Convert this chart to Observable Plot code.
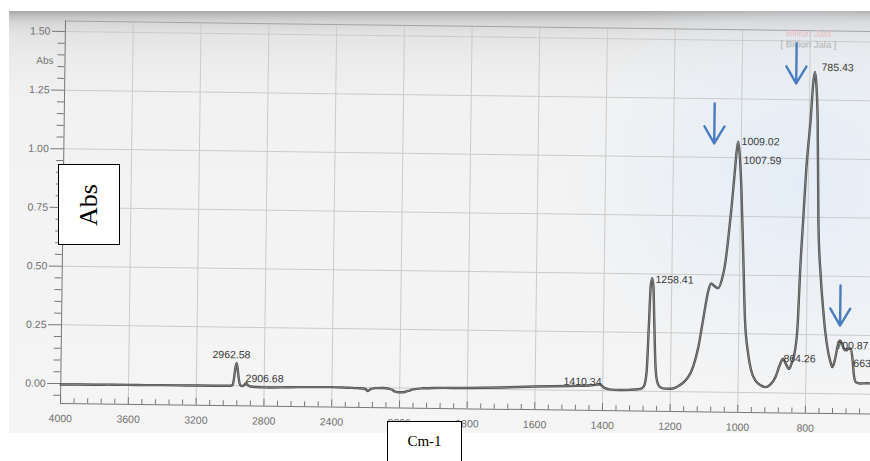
<!DOCTYPE html>
<html><head><meta charset="utf-8">
<script src="https://cdn.jsdelivr.net/npm/d3@7"></script>
<script src="https://cdn.jsdelivr.net/npm/@observablehq/plot@0.6"></script>
<style>
html,body{margin:0;padding:0;background:#fff;}
#wrap{position:relative;width:870px;height:461px;overflow:hidden;background:#fff;}
#paper{position:absolute;left:9px;top:11px;width:861px;height:422px;
 background:
  radial-gradient(ellipse 240px 220px at 790px 170px, rgba(226,236,248,0.85), rgba(226,236,248,0) 100%),
  linear-gradient(to bottom,#a9a9a9 0px,#c2c2c2 5px,#d6d6d6 11px,#e4e4e4 24px,#ececec 50px,#f2f2f2 90px,#f5f5f5 100%);}
#chart{position:absolute;left:0;top:0;}
#chart svg{transform:rotate(0.75deg);transform-origin:60px 403px;}
.box{position:absolute;background:#fff;border:1px solid #000;box-sizing:border-box;}
.serif{font-family:"Liberation Serif","Times New Roman",serif;color:#000;}
</style></head>
<body>
<div id="wrap">
  <div id="paper"></div>
  <div id="chart"></div>
  <div class="box" style="left:58px;top:164px;width:62px;height:81px;">
    <span class="serif" style="position:absolute;left:50%;top:50%;transform:translate(-50%,-50%) rotate(-90deg);font-size:26px;line-height:26px;">Abs</span>
  </div>
  <div class="box" style="left:387px;top:421px;width:75px;height:60px;">
    <span class="serif" style="position:absolute;left:0;width:100%;text-align:center;top:12px;font-size:15px;line-height:15px;">Cm-1</span>
  </div>
</div>
<script>
// ---- spectrum (wavenumber cm-1, absorbance) ----
const wavenumber = [4000,3900,3800,3700,3600,3500,3400,3300,3200,3100,3030,2995,2985,2977,2970,2964,2958,2950,2942,2928,2915,2906,2897,2880,2850,2800,2700,2600,2500,2400,2300,2250,2205,2187,2172,2140,2100,2060,2045,2030,2010,1990,1975,1960,1930,1900,1800,1700,1600,1500,1440,1420,1410,1402,1395,1380,1350,1320,1295,1285,1278,1271,1266,1262,1258,1254,1250,1245,1239,1230,1215,1200,1185,1174,1160,1148,1133,1119,1110,1100,1092,1084,1074,1063,1052,1043,1035,1027,1019,1013,1009,1004,998,990,982,972,962,948,932,920,905,890,876,868,860,850,842,833,826,821,814,807,796,789,785,781,775,769,760,752,744,736,728,722,714,707,701,695,688,682,676,668,663,658,652,640,620,600];
const absorbance = [-0.004,-0.003,-0.003,-0.002,-0.002,-0.002,-0.001,-0.001,-0.001,-0.001,0.000,0.000,0.006,0.040,0.080,0.096,0.075,0.030,0.004,-0.001,0.006,0.013,0.004,-0.002,-0.004,-0.005,-0.004,-0.002,-0.001,0.000,-0.002,-0.003,-0.005,-0.015,-0.006,-0.002,-0.001,-0.004,-0.008,-0.015,-0.018,-0.018,-0.012,-0.005,0.000,0.002,0.004,0.008,0.014,0.018,0.021,0.024,0.027,0.020,0.012,0.006,0.004,0.005,0.008,0.012,0.022,0.080,0.280,0.450,0.482,0.445,0.290,0.110,0.040,0.018,0.012,0.012,0.017,0.026,0.042,0.062,0.110,0.190,0.270,0.363,0.430,0.463,0.452,0.443,0.480,0.546,0.650,0.774,0.920,1.030,1.068,1.010,0.874,0.592,0.307,0.170,0.094,0.050,0.031,0.024,0.035,0.067,0.125,0.146,0.125,0.103,0.130,0.182,0.300,0.523,0.737,0.949,1.163,1.330,1.370,1.330,1.163,0.737,0.500,0.366,0.260,0.184,0.135,0.113,0.150,0.205,0.227,0.215,0.190,0.185,0.192,0.193,0.150,0.080,0.050,0.045,0.046,0.046];

// ---- peak labels ----
const peakLabels = ["2962.58","2906.68","1410.34","1258.41","1009.02","1007.59","785.43","864.26","700.87","663"];
const peakLabelWavenumber = [3107,2910,1516,1248,999,992.6,765.6,867,711,660];
const peakLabelAbs = [0.132,0.032,0.037,0.476,1.069,0.989,1.389,0.147,0.205,0.13];

// ---- arrows (annotations) ----
const arrowWavenumber = [1080,840,701];
const arrowTopAbs = [1.23,1.49,0.461];

// ---- axes ----
const xTickValues = [4000,3600,3200,2800,2400,2000,1800,1600,1400,1200,1000,800];
const yTickValues = [0,0.25,0.5,0.75,1,1.25,1.5];
const legendLabels = ["Billion Jala", "[ Billion Jala ]"];
const legendAbs = [1.533, 1.486];

const yLo = -0.085, yHi = 1.545, xEnd = 600;
const xMinor = [...d3.range(4000, 2000, -80), ...d3.range(2000, xEnd, -40)].filter(v => !xTickValues.includes(v));
const yMinor = d3.range(-0.05, 1.5, 0.05).map(v => +v.toFixed(2)).filter(v => !yTickValues.includes(v));

const spectrum = wavenumber.map((w, i) => ({wn: w, abs: absorbance[i]}));
const peaks = peakLabels.map((t, i) => ({t, x: peakLabelWavenumber[i], y: peakLabelAbs[i]}));
const arrows = arrowWavenumber.map((w, i) => ({x: w, y: arrowTopAbs[i]}));
const legend = legendLabels.map((t, i) => ({t, y: legendAbs[i]}));

const arrowShape = {
  draw(ctx, l) {
    ctx.moveTo(0, 0); ctx.lineTo(0, -l);
    ctx.moveTo(-10, -l + 17); ctx.lineTo(0, -l); ctx.lineTo(10, -l + 17);
  }
};

const grid = "#cbcbcb", axisCol = "#777", lab = "#707070";
const chart = Plot.plot({
  width: 870, height: 461,
  marginLeft: 0, marginRight: 0, marginTop: 0, marginBottom: 0,
  style: {background: "transparent", fontFamily: "'Liberation Sans', Arial, sans-serif", fontSize: "10.5px", overflow: "visible"},
  x: {type: "linear", domain: [4000, 2000, xEnd], range: [60, 399, 399 + 1400 * 0.3383], axis: null},
  y: {type: "linear", domain: [yLo, yHi], range: [403, 20.4], axis: null},
  marks: [
    Plot.ruleY(yTickValues, {x1: 4000, x2: xEnd, stroke: grid, strokeWidth: 1}),
    Plot.ruleX(xTickValues.filter(v => v !== 4000), {y1: yLo, y2: yHi, stroke: grid, strokeWidth: 1}),
    Plot.ruleY([yHi], {x1: 4000, x2: xEnd, stroke: "#a3a3a3"}),
    Plot.ruleX([4000], {y1: yLo, y2: yHi, stroke: axisCol}),
    Plot.ruleY([yLo], {x1: 4000, x2: xEnd, stroke: axisCol}),
    Plot.tickY(yTickValues, {y: d => d, insetLeft: 47, insetRight: 810, stroke: axisCol}),
    Plot.tickY(yMinor, {y: d => d, insetLeft: 53, insetRight: 810, stroke: axisCol}),
    Plot.tickX(xTickValues, {x: d => d, insetTop: 396, insetBottom: 58, stroke: axisCol}),
    Plot.tickX(xMinor, {x: d => d, insetTop: 398, insetBottom: 58, stroke: axisCol}),
    Plot.text(yTickValues, {x: () => 4000, y: d => d, text: d => d.toFixed(2), textAnchor: "end", dx: -15, fill: lab}),
    Plot.text(["Abs"], {x: () => 4000, y: () => 1.375, text: d => d, dx: -20, fill: lab, fontSize: 10}),
    Plot.text(xTickValues, {x: d => d, y: () => yLo, text: d => String(d), dy: 15, fill: lab}),
    Plot.text(legend, {x: () => 805, y: "y", text: "t", fill: (d, i) => i === 0 ? "#e6bcc3" : "#b0b0b0", fontSize: 9.5}),
    Plot.line(spectrum, {x: "wn", y: "abs", curve: "monotone-x", stroke: "#4b4b4b", strokeWidth: 2.4}),
    Plot.line(spectrum, {x: "wn", y: "abs", curve: "monotone-x", stroke: "#a8a8a8", strokeWidth: 0.6}),
    Plot.text(peaks, {x: "x", y: "y", text: "t", textAnchor: "start", fill: "#3a3a3a", fontSize: 10.5}),
    Plot.vector(arrows, {x: "x", y: "y", length: 40, rotate: 180, anchor: "start", shape: arrowShape, stroke: "#4a7dc0", strokeWidth: 2.4})
  ]
});
document.getElementById("chart").appendChild(chart);
</script>
</body></html>
